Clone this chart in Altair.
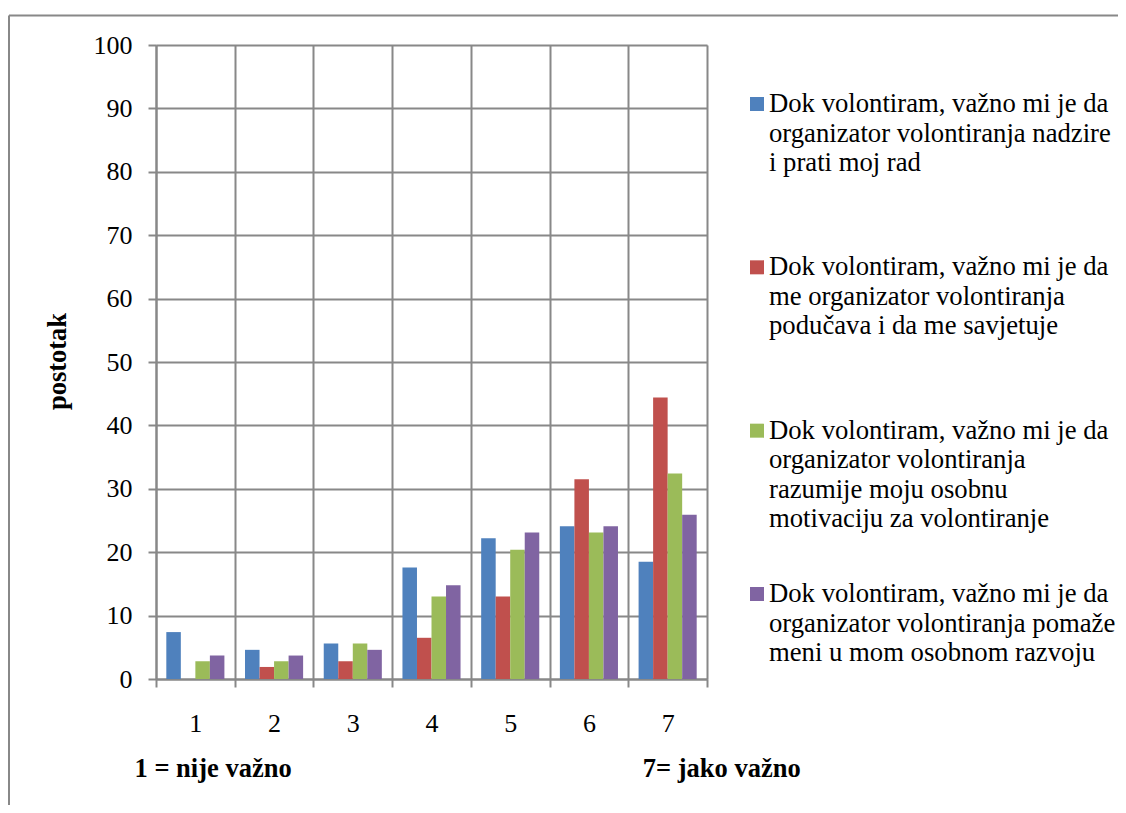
import altair as alt
import pandas as pd

# ---------------- data ----------------
categories = ["1", "2", "3", "4", "5", "6", "7"]
series = [
    "Dok volontiram, važno mi je da organizator volontiranja nadzire i prati moj rad",
    "Dok volontiram, važno mi je da me organizator volontiranja podučava i da me savjetuje",
    "Dok volontiram, važno mi je da organizator volontiranja razumije moju osobnu motivaciju za volontiranje",
    "Dok volontiram, važno mi je da organizator volontiranja pomaže meni u mom osobnom razvoju",
]
series_lines = [
    "Dok volontiram, važno mi je da\norganizator volontiranja nadzire\ni prati moj rad",
    "Dok volontiram, važno mi je da\nme organizator volontiranja\npodučava i da me savjetuje",
    "Dok volontiram, važno mi je da\norganizator volontiranja\nrazumije moju osobnu\nmotivaciju za volontiranje",
    "Dok volontiram, važno mi je da\norganizator volontiranja pomaže\nmeni u mom osobnom razvoju",
]
colors = ["#4F81BD", "#C0504D", "#9BBB59", "#8064A2"]

blue = [7.4, 4.6, 5.6, 17.6, 22.2, 24.1, 18.5]
red = [0.0, 1.9, 2.8, 6.5, 13.0, 31.5, 44.4]
green = [2.8, 2.8, 5.6, 13.0, 20.4, 23.1, 32.4]
purple = [3.7, 3.7, 4.6, 14.8, 23.1, 24.1, 25.9]

y_ticks = [0, 10, 20, 30, 40, 50, 60, 70, 80, 90, 100]
y_title = "postotak"
x_left_note = "1 = nije važno"
x_right_note = "7= jako važno"

rows = []
for s, vals in zip(series, [blue, red, green, purple]):
    for c, v in zip(categories, vals):
        rows.append({"cat": c, "series": s, "value": v})
bars_df = pd.DataFrame(rows)
legend_df = pd.DataFrame({"series": series, "label": series_lines})

# ---------------- layout / style ----------------
W, H = 551, 634                      # plot area
PAD = {"left": 148, "top": 37, "right": 411, "bottom": 126}
GRID = "#888888"
FONT = "Liberation Serif"
NB = "\u00a0"
x_title = x_left_note + NB * 53 + x_right_note

color_scale = alt.Scale(domain=series, range=colors)

x_axis = alt.Axis(
    title=x_title, tickBand="extent", grid=True, gridColor=GRID, gridWidth=2,
    domainColor=GRID, domainWidth=2, tickColor=GRID, tickWidth=2, tickSize=8,
    labelFont=FONT, labelFontSize=26, labelColor="black", labelPadding=23, labelAngle=0,
    titleFont=FONT, titleFontSize=26.5, titleFontWeight="bold", titleColor="black",
    titleX=-22, titleY=97, titleAlign="left", titleBaseline="alphabetic",
    titleLimit=2000,
)
y_axis = alt.Axis(
    title=y_title, values=y_ticks, grid=True, gridColor=GRID, gridWidth=2,
    domainColor=GRID, domainWidth=2, tickColor=GRID, tickWidth=2, tickSize=8,
    labelFont=FONT, labelFontSize=26, labelColor="black", labelPadding=16,
    titleFont=FONT, titleFontSize=26.5, titleFontWeight="bold", titleColor="black",
    titleX=-99, titleY=316, titleAngle=270, titleAlign="center", titleBaseline="middle",
)

frame_data = alt.Data(values=[{"f": 1}])
frame_top = alt.Chart(frame_data).mark_rule(color=GRID, strokeWidth=2).encode(
    x=alt.value(-147), x2=alt.value(1000), y=alt.value(-29.5)
)
frame_left = alt.Chart(frame_data).mark_rule(color=GRID, strokeWidth=2).encode(
    x=alt.value(-147), y=alt.value(-29.5), y2=alt.value(800)
)

bars = alt.Chart(bars_df).mark_bar().encode(
    x=alt.X("cat:O", sort=categories, axis=x_axis,
            scale=alt.Scale(domain=categories, paddingInner=0, paddingOuter=0)),
    xOffset=alt.XOffset("series:N", sort=series,
                        scale=alt.Scale(domain=series, paddingInner=0, paddingOuter=0.71)),
    y=alt.Y("value:Q", axis=y_axis, scale=alt.Scale(domain=[0, 100], nice=False)),
    color=alt.Color("series:N", scale=color_scale, legend=None),
)

leg_offset = alt.YOffset("series:N", sort=series,
                         scale=alt.Scale(type="point", domain=series, range=[59, 549], padding=0))

leg_sq = alt.Chart(legend_df).mark_square(size=196, opacity=1).encode(
    x=alt.value(601),
    y=alt.value(0),
    yOffset=leg_offset,
    color=alt.Color("series:N", scale=color_scale, legend=None),
)
leg_tx = alt.Chart(legend_df).mark_text(
    align="left", baseline="alphabetic", dy=8, lineHeight=29.5, lineBreak="\n",
    font=FONT, fontSize=26.7, color="black",
).encode(
    x=alt.value(613),
    y=alt.value(0),
    yOffset=leg_offset,
    text="label:N",
)

chart = alt.layer(frame_top, frame_left, bars, leg_sq, leg_tx).properties(
    width=W, height=H,
    padding=PAD,
    autosize=alt.AutoSizeParams(type="none"),
).configure_view(stroke="transparent").configure(background="white")

chart.save("out.html", embed_options={"renderer": "svg", "actions": False})
